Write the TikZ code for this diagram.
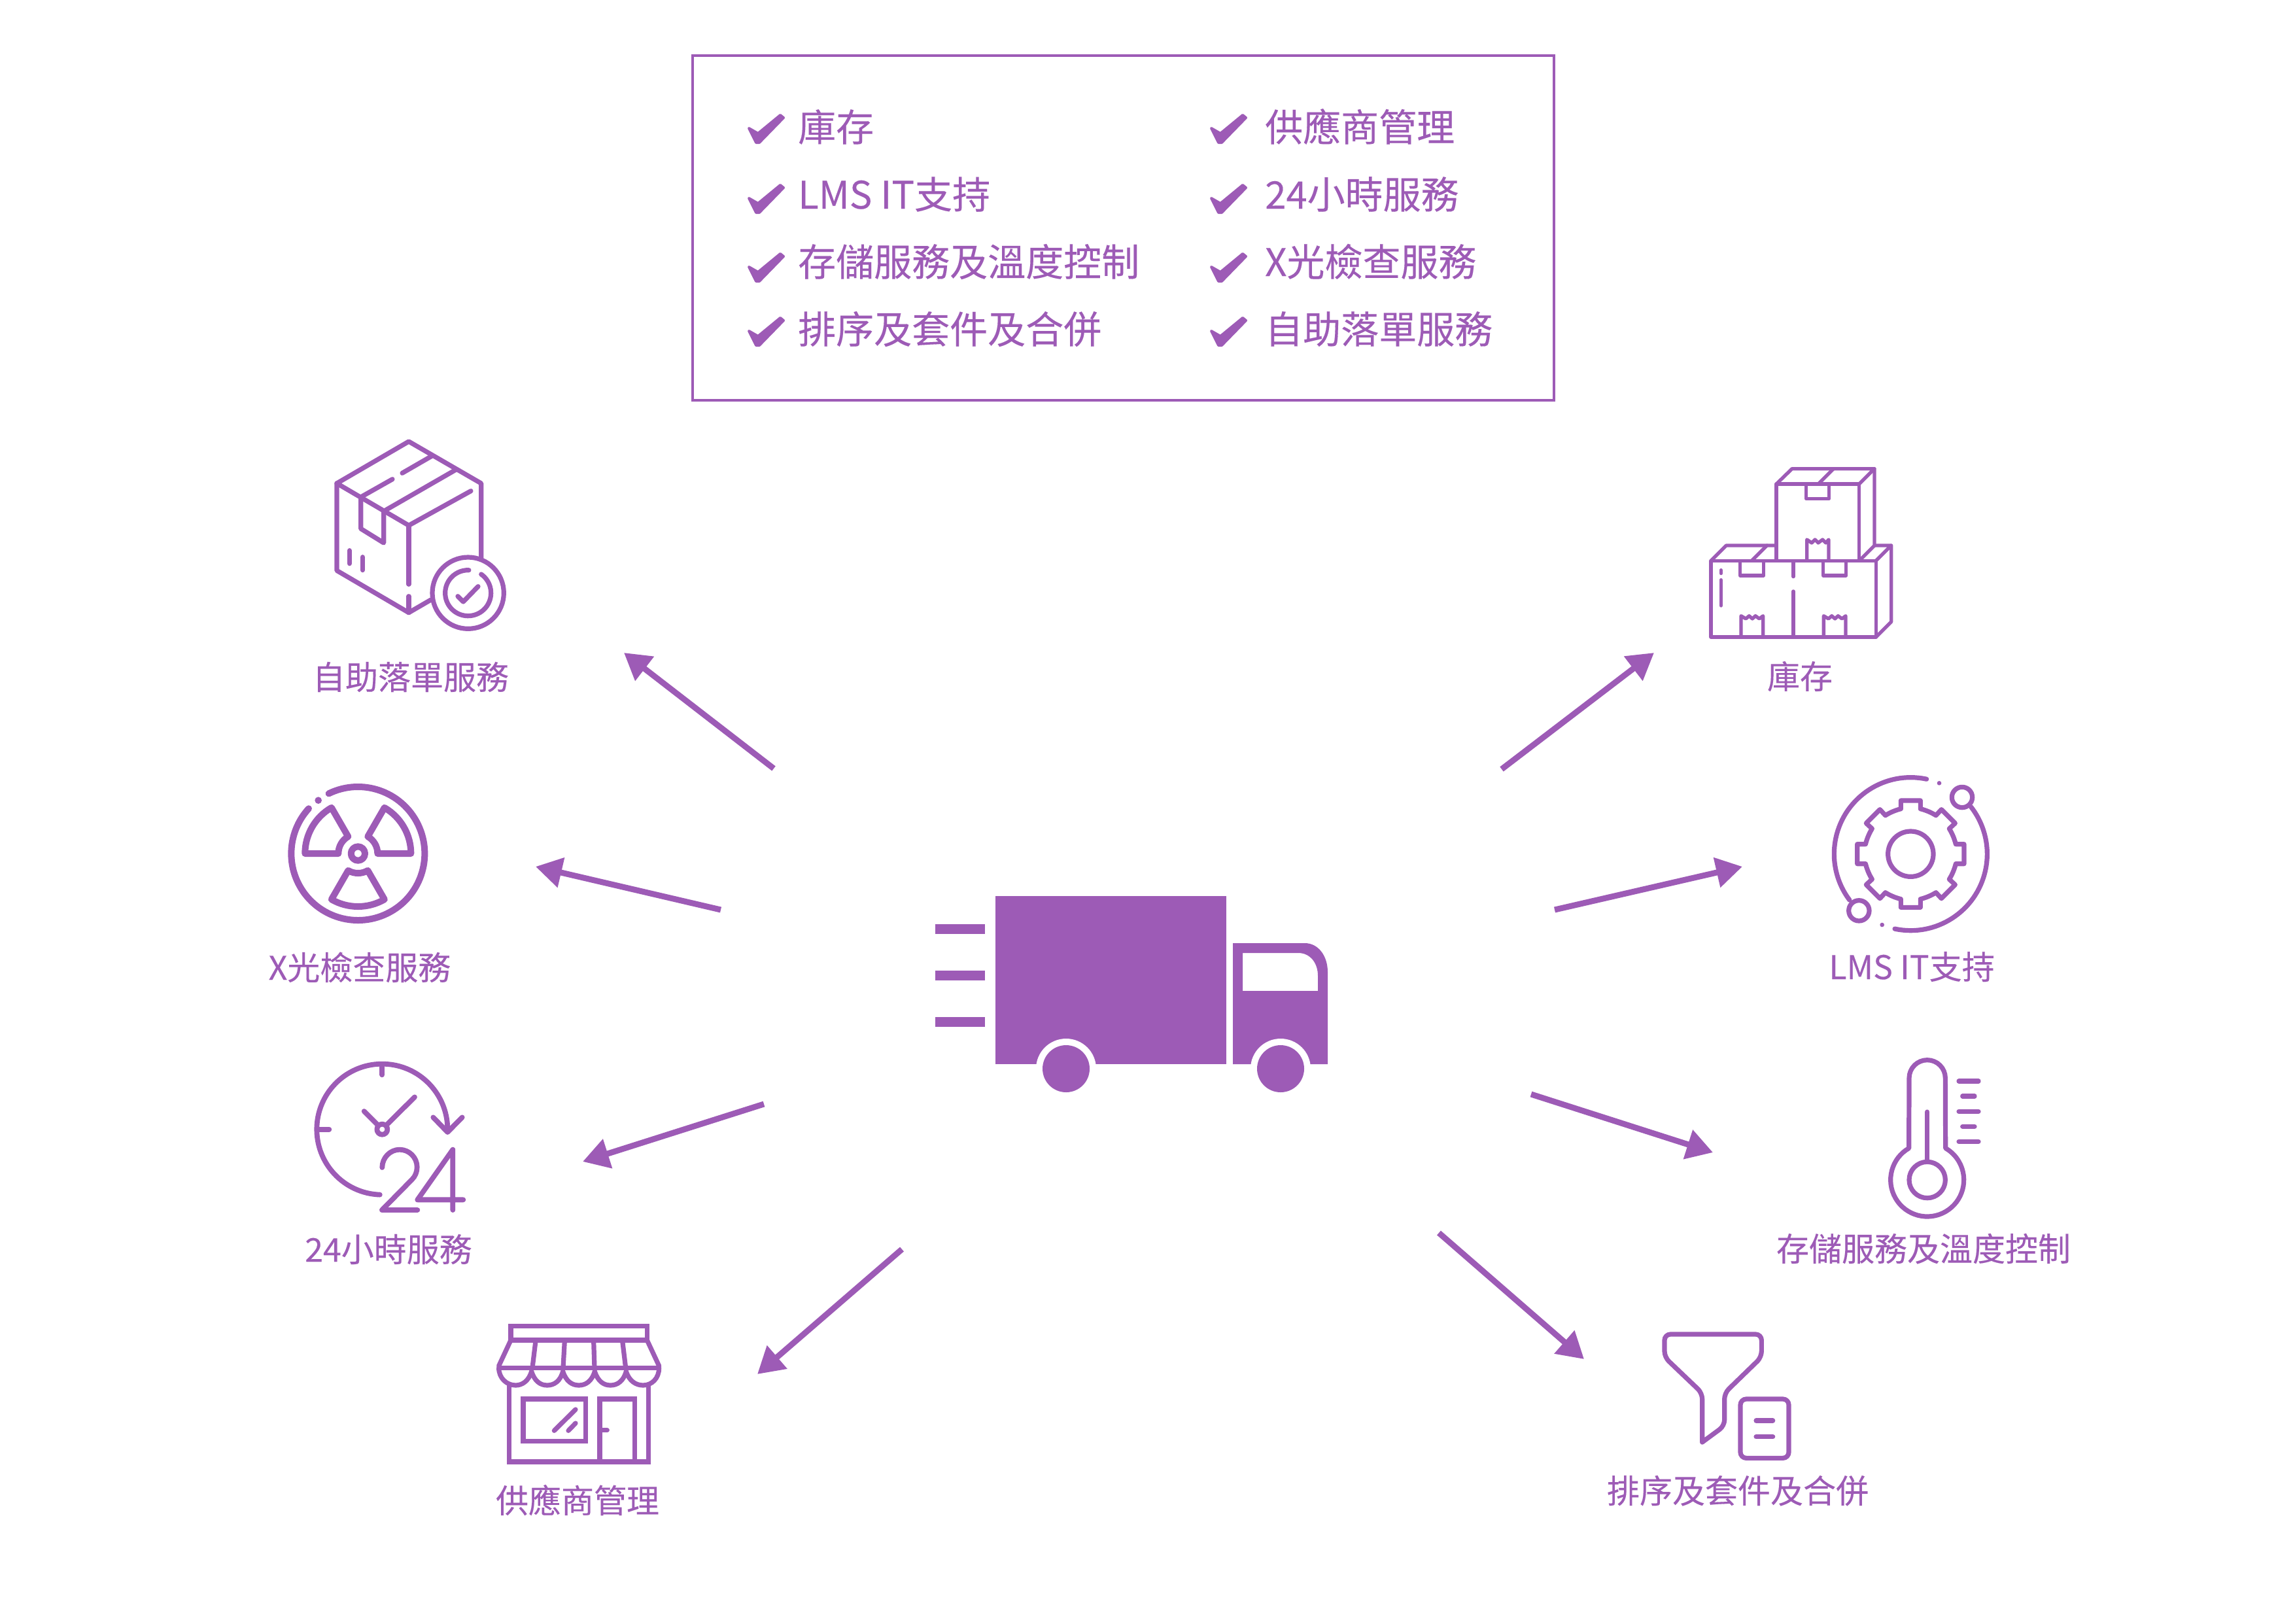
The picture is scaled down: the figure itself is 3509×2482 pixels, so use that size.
\documentclass[tikz,border=0pt]{standalone}
\usepackage{fontspec}
\setmainfont{Noto Sans CJK TC}
\newfontfamily\medcjk{Noto Sans CJK TC}[FakeBold=0.22]
\usetikzlibrary{arrows.meta}
\definecolor{pur}{HTML}{9D5BB6}
\tikzset{
 zoomed/.style n args={2}{shift={(#1,#2)},x=.33333pt,y=-.33333pt},
 upz/.style n args={2}{shift={(#1,#2)},x=.33333pt,y=.33333pt},
 ic/.style={draw=pur,line width=7.2pt,line cap=round,line join=round},
 conn/.style={draw=pur,line width=9pt,-{Triangle[length=40pt,width=45pt]}},
 lab/.style={text=pur,font=\medcjk\fontsize{50}{50}\selectfont,anchor=base,inner sep=0pt},
 itemtxt/.style={text=pur,font=\medcjk\fontsize{58}{58}\selectfont,anchor=base west,inner sep=0pt},
 chkmark/.pic={\fill[pur,draw=pur,line width=4pt,line join=round] (2,22) -- (16,30) -- (50,2) -- (55,6) -- (18,44) -- (13,44) -- cycle;},
}
\begin{document}
\begin{tikzpicture}[x=1pt,y=-1pt]
\useasboundingbox (0,0) rectangle (3509,2482);
% list box
\draw[pur,line width=4.5pt] (1059,85) rectangle (2376,612);
\foreach \x in {1143,1850}\foreach \y in {174,281,386,484}{\pic at (\x,\y) {chkmark};}
\node[itemtxt] (l1) at (1220,216) {庫存};
\node[itemtxt] (l2) at (1220,319) {LMS IT支持};
\node[itemtxt] (l3) at (1220,422) {存儲服務及溫度控制};
\node[itemtxt] (l4) at (1220,525) {排序及套件及合併};
\node[itemtxt] (r1) at (1934,216) {供應商管理};
\node[itemtxt] (r2) at (1934,319) {24小時服務};
\node[itemtxt] (r3) at (1934,422) {X光檢查服務};
\node[itemtxt] (r4) at (1934,525) {自助落單服務};
% labels
\node[lab] (t1) at (628,1054) {自助落單服務};
\node[lab] (t2) at (550,1498) {X光檢查服務};
\node[lab] (t3) at (594,1929) {24小時服務};
\node[lab] (t4) at (883,2313) {供應商管理};
\node[lab] (t5) at (2752,1053) {庫存};
\node[lab] (t6) at (2923,1497) {LMS IT支持};
\node[lab] (t7) at (2941,1928) {存儲服務及溫度控制};
\node[lab] (t8) at (2657,2298) {排序及套件及合併};
% arrows
\coordinate (a1s) at (1183,1175); \coordinate (a1e) at (954,998);
\coordinate (a2s) at (1102,1391); \coordinate (a2e) at (819,1325);
\coordinate (a3s) at (1168,1688); \coordinate (a3e) at (891,1776);
\coordinate (a4s) at (1379,1910); \coordinate (a4e) at (1158,2101);
\coordinate (a5s) at (2296,1176); \coordinate (a5e) at (2529,998);
\coordinate (a6s) at (2377,1391); \coordinate (a6e) at (2664,1325);
\coordinate (a7s) at (2341,1673); \coordinate (a7e) at (2619,1762);
\coordinate (a8s) at (2200,1885); \coordinate (a8e) at (2422,2078);
\foreach \i in {1,...,8}{\draw[conn] (a\i s) -- (a\i e);}
% truck
\fill[pur] (1522,1370) rectangle (1875,1627);
\fill[pur] (1430,1413) rectangle (1506,1428);
\fill[pur] (1430,1484) rectangle (1506,1499);
\fill[pur] (1430,1555) rectangle (1506,1570);
\fill[pur,even odd rule] (1885,1627) -- (1885,1442) -- (1995,1442) .. controls (2016,1442) and (2030,1462) .. (2030,1486) -- (2030,1627) -- cycle
 (1900,1457) -- (1900,1515) -- (2015,1515) -- (2015,1492) .. controls (2015,1472) and (2003,1457) .. (1985,1457) -- cycle;
\fill[white] (1630,1634) circle[radius=46pt];
\fill[white] (1958,1634) circle[radius=46pt];
\fill[pur] (1630,1634) circle[radius=36pt];
\fill[pur] (1958,1634) circle[radius=36pt];
% parcel with check
\begin{scope}[zoomed={400}{640}]
\draw[ic] (345,297) -- (675,105) -- (1007,297) -- (1007,640);
\draw[ic] (775,832) -- (675,890) -- (345,697) -- (345,297);
\draw[ic] (345,297) -- (675,490) -- (960,332);
\draw[ic] (675,490) -- (675,760) (675,815) -- (675,890);
\draw[ic] (455,360) -- (600,278) (645,250) -- (780,172) (560,425) -- (890,235);
\draw[ic] (455,360) -- (455,505) -- (560,570) -- (560,425);
\draw[ic] (403,605) -- (403,665) (463,635) -- (463,695);
\draw[ic] (900,815) -- (925,840) -- (993,770);
\draw[ic] (947,800) circle[radius=164];
\end{scope}
\begin{scope}[upz={{400+947/3}}{{640+800/3}}]
\draw[ic] (55:105) arc[start angle=55,end angle=-272,radius=105];
\end{scope}
% radiation
\begin{scope}[upz={{400+442/3}}{{1170+405/3}}]
\draw[ic,line width=10pt] (116:306) arc[start angle=116,end angle=-222.4,radius=306];
\fill[pur] (-182,244) circle[radius=16];
\draw[ic,line width=10pt] (0,0) circle[radius=32];
\foreach \a in {0,120,240}{
\draw[ic,line width=10pt] (\a:90) -- (\a:243) arc[start angle=\a,end angle=\a+60,radius=243] -- ({\a+60}:90) arc[start angle=\a+60,end angle=\a,radius=90] -- cycle;}
\end{scope}
% clock
\begin{scope}[upz={{460+373/3}}{{1600+380/3}}]
\draw[ic,line width=7.8pt] (268:300) arc[start angle=268,end angle=0,radius=300];
\draw[ic,line width=7.8pt] (0,0) circle[radius=24];
\end{scope}
\begin{scope}[zoomed={460}{1600}]
\tikzset{ic/.append style={line width=7.8pt}}
\draw[ic] (373,85) -- (373,130) (75,380) -- (130,380);
\draw[ic] (290,297) -- (350,357) (522,232) -- (398,355);
\draw[ic] (607,325) -- (673,393) -- (740,325);
\draw[ic] (373,555) .. controls (373,510) and (410,473) .. (453,473) .. controls (497,473) and (533,509) .. (533,553) .. controls (533,575) and (525,595) .. (510,610) -- (372,750) -- (535,750);
\draw[ic] (697,750) -- (697,473) -- (535,703) -- (745,703);
\end{scope}
% shop
\begin{scope}[zoomed={740}{2000}]
\tikzset{ic/.append style={line width=7.2pt}}
\draw[ic,line cap=butt,line join=miter] (123,147) -- (123,82) -- (748,82) -- (748,147);
\draw[ic] (123,147) -- (748,147);
\draw[ic] (123,147) -- (68,265) -- (72,274) (748,147) -- (803,265) -- (800,274);
\draw[ic] (72,274) -- (800,274);
\draw[ic] (237,150) -- (222,274) (370,150) -- (363,274) (503,150) -- (507,274) (635,150) -- (650,274);
\draw[ic] (68,274) .. controls (68,322) and (105,354) .. (145,354) .. controls (175,354) and (205,335) .. (218,290)
 .. controls (232,335) and (258,354) .. (290,354) .. controls (322,354) and (350,335) .. (362,290)
 .. controls (376,335) and (403,354) .. (435,354) .. controls (467,354) and (495,335) .. (508,290)
 .. controls (522,335) and (548,354) .. (580,354) .. controls (612,354) and (640,335) .. (652,290)
 .. controls (666,335) and (697,354) .. (730,354) .. controls (770,354) and (803,322) .. (803,274);
\draw[ic,line cap=butt,line join=miter] (115,350) -- (115,705) -- (755,705) -- (755,350);
\draw[ic,line join=miter] (180,417) rectangle (467,610);
\draw[ic,line cap=butt,line join=miter] (531,705) -- (531,417) -- (691,417) -- (691,705);
\draw[ic] (531,560) -- (565,560);
\draw[ic] (322,562) -- (420,465) (387,562) -- (420,528);
\end{scope}
% stacked boxes
\begin{scope}[zoomed={2560}{680}]
\tikzset{ic/.append style={line width=5.3pt}}
\draw[ic] (468,530) -- (468,180) -- (848,180) -- (848,530);
\draw[ic] (468,180) -- (540,110) -- (918,110) -- (848,180);
\draw[ic] (918,110) -- (918,462) -- (855,525);
\draw[ic] (660,180) -- (730,110);
\draw[ic] (605,185) -- (605,248) -- (710,248) -- (710,185);
\draw[ic] (608,525) -- (608,435) -- (630,450) -- (645,435) -- (660,450) -- (680,435) -- (695,450) -- (708,435) -- (708,525);
\draw[ic] (168,532) -- (925,532) -- (925,882) -- (168,882) -- cycle;
\draw[ic] (168,532) -- (238,462) -- (468,462);
\draw[ic] (918,462) -- (995,462) -- (925,532);
\draw[ic] (995,462) -- (995,812) -- (925,882);
\draw[ic] (355,532) -- (425,462);
\draw[ic] (302,538) -- (302,600) -- (410,600) -- (410,538);
\draw[ic] (683,538) -- (683,600) -- (788,600) -- (788,538);
\draw[ic] (546,538) -- (546,605) (546,672) -- (546,882);
\draw[ic] (214,575) -- (214,590) (214,620) -- (214,738);
\draw[ic] (306,882) -- (306,785) -- (328,798) -- (343,785) -- (358,798) -- (372,785) -- (390,798) -- (407,785) -- (407,882);
\draw[ic] (685,882) -- (685,785) -- (707,798) -- (722,785) -- (737,798) -- (751,785) -- (769,798) -- (786,785) -- (786,882);
\end{scope}
% gear
\begin{scope}[upz={{2760+484/3}}{{1160+437/3}}]
\draw[ic] (78:351) arc[start angle=78,end angle=217,radius=351];
\draw[ic] (258:351) arc[start angle=258,end angle=398,radius=351];
\draw[ic] (236,260) circle[radius=47];
\draw[ic] (-237,-260) circle[radius=47];
\fill[pur] (131,325) circle[radius=10];
\fill[pur] (-131,-325) circle[radius=10];
\draw[ic] (0,0) circle[radius=104];
\draw[ic] (-45,207) -- (-45,245) -- (45,245) -- (45,207)
 .. controls (72,200) and (95,190) .. (116,177) -- (141,204) -- (204,141) -- (177,116)
 .. controls (190,95) and (200,72) .. (207,45) -- (245,45) -- (245,-45) -- (207,-45)
 .. controls (200,-72) and (190,-95) .. (177,-116) -- (204,-141) -- (141,-204) -- (116,-177)
 .. controls (95,-190) and (72,-200) .. (45,-207) -- (45,-245) -- (-45,-245) -- (-45,-207)
 .. controls (-72,-200) and (-95,-190) .. (-116,-177) -- (-141,-204) -- (-204,-141) -- (-177,-116)
 .. controls (-190,-95) and (-200,-72) .. (-207,-45) -- (-245,-45) -- (-245,45) -- (-207,45)
 .. controls (-200,72) and (-190,95) .. (-177,116) -- (-204,141) -- (-141,204) -- (-116,177)
 .. controls (-95,190) and (-72,200) .. (-45,207) -- cycle;
\end{scope}
% thermometer
\begin{scope}[upz={{2860+260/3}}{{1600+612/3}}]
\draw[ic] (120:168) arc[start angle=120,end angle=420,radius=168] -- (83,467) arc[start angle=0,end angle=180,radius=83] -- cycle;
\draw[ic] (0,0) circle[radius=83];
\draw[ic] (0,87) -- (0,312);
\foreach \y/\a/\b in {453/145/235,384/162/217,314/145/235,245/162/217,176/145/235}{\draw[ic] (\a,\y) -- (\b,\y);}
\end{scope}
% funnel
\begin{scope}[zoomed={2520}{2010}]
\draw[ic,rounded corners=9pt] (300,90) -- (520,90) -- (520,195) -- (350,360) -- (350,510) [sharp corners] -- (248,585) [rounded corners=9pt] -- (248,360) -- (75,195) -- (75,90) -- cycle;
\draw[ic,rounded corners=9pt] (423,387) rectangle (645,658);
\draw[ic] (495,486) -- (572,486) (495,560) -- (572,560);
\end{scope}
\end{tikzpicture}
\end{document}
